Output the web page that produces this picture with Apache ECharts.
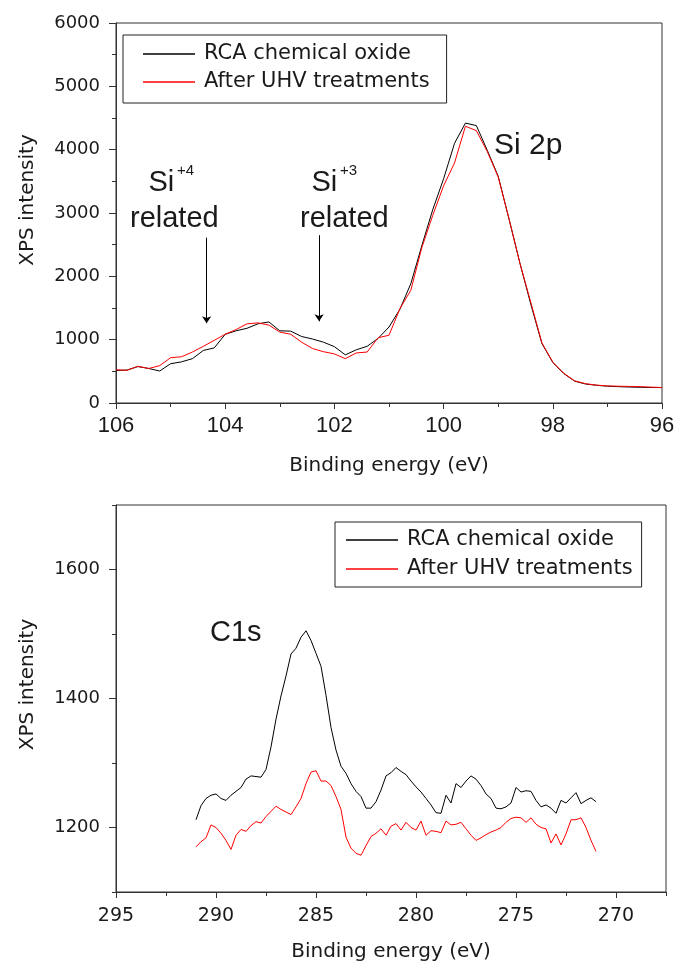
<!DOCTYPE html>
<html>
<head>
<meta charset="utf-8">
<script src="https://cdn.jsdelivr.net/npm/echarts@6/dist/echarts.min.js"></script>
<style>
  html, body { margin: 0; padding: 0; background: #fff; }
  #chart { width: 688px; height: 963px; }
</style>
</head>
<body>
<div id="chart"></div>
<script>
// Si 2p region: binding energy (eV) and XPS intensity of both surfaces
const siEnergy = [106.0, 105.8, 105.6, 105.4, 105.2, 105.0, 104.8, 104.6, 104.4, 104.2,
  104.0, 103.8, 103.6, 103.4, 103.2, 103.0, 102.8, 102.6, 102.4, 102.2,
  102.0, 101.8, 101.6, 101.4, 101.2, 101.0, 100.8, 100.6, 100.4, 100.2,
  100.0, 99.8, 99.6, 99.4, 99.2, 99.0, 98.8, 98.6, 98.4, 98.2,
  98.0, 97.8, 97.6, 97.4, 97.2, 97.0, 96.8, 96.6, 96.4, 96.2, 96.0];
const siRCA = [515, 520, 575, 545, 505, 620, 650, 700, 830, 870,
  1085, 1140, 1180, 1250, 1280, 1140, 1135, 1050, 1010, 960,
  890, 760, 840, 895, 1020, 1200, 1480, 1885, 2480, 3050,
  3540, 4100, 4420, 4380, 3990, 3580, 2900, 2200, 1550, 940,
  640, 465, 345, 300, 280, 265, 258, 252, 248, 245, 243];
const siUHV = [525, 515, 580, 545, 590, 715, 730, 805, 895, 990,
  1085, 1160, 1250, 1265, 1230, 1120, 1085, 960, 860, 810,
  775, 700, 790, 805, 1030, 1070, 1490, 1780, 2450, 2960,
  3430, 3790, 4370, 4300, 3970, 3570, 2900, 2200, 1580, 950,
  645, 470, 350, 305, 282, 270, 265, 262, 258, 250, 245];

// C 1s region
const cEnergy = [291.00,
  290.75, 290.50, 290.25, 290.00, 289.75, 289.50, 289.25, 289.00,
  288.75, 288.50, 288.25, 288.00, 287.75, 287.50, 287.25, 287.00,
  286.75, 286.50, 286.25, 286.00, 285.75, 285.50, 285.25, 285.00,
  284.75, 284.50, 284.25, 284.00, 283.75, 283.50, 283.25, 283.00,
  282.75, 282.50, 282.25, 282.00, 281.75, 281.50, 281.25, 281.00,
  280.75, 280.50, 280.25, 280.00, 279.75, 279.50, 279.25, 279.00,
  278.75, 278.50, 278.25, 278.00, 277.75, 277.50, 277.25, 277.00,
  276.75, 276.50, 276.25, 276.00, 275.75, 275.50, 275.25, 275.00,
  274.75, 274.50, 274.25, 274.00, 273.75, 273.50, 273.25, 273.00,
  272.75, 272.50, 272.25, 272.00, 271.75, 271.50, 271.25, 271.00];
const cRCA = [1212,
  1234, 1245, 1250, 1252, 1245, 1242, 1250, 1256,
  1262, 1275, 1280, 1279, 1278, 1290, 1325, 1368,
  1404, 1435, 1469, 1478, 1495, 1505, 1490, 1470,
  1450, 1405, 1355, 1320, 1295, 1284, 1268, 1256,
  1248, 1230, 1230, 1240, 1258, 1280, 1285, 1293,
  1287, 1282, 1272, 1263, 1255, 1245, 1235, 1223,
  1222, 1250, 1238, 1268, 1262, 1272, 1280, 1275,
  1265, 1252, 1245, 1230, 1229, 1232, 1238, 1262,
  1255, 1257, 1256, 1242, 1232, 1235, 1230, 1222,
  1242, 1238, 1246, 1254, 1237, 1242, 1246, 1240];
const cUHV = [1170,
  1178, 1184, 1204, 1200, 1191, 1180, 1166, 1188,
  1197, 1194, 1203, 1209, 1207, 1217, 1225, 1233,
  1228, 1224, 1220, 1232, 1245, 1268, 1286, 1288,
  1272, 1272, 1265, 1248, 1228, 1185, 1168, 1160,
  1157, 1172, 1186, 1191, 1198, 1188, 1202, 1206,
  1196, 1208, 1200, 1196, 1210, 1188, 1195, 1194,
  1192, 1210, 1204, 1205, 1208, 1198, 1188, 1180,
  1184, 1189, 1193, 1196, 1200, 1208, 1214, 1216,
  1215, 1208, 1215, 1205, 1200, 1198, 1176, 1190,
  1173, 1190, 1212, 1212, 1215, 1200, 1180, 1163];

// Axis ticks
const siXTicks = { min: 96, max: 106, step: 2 };
const siYTicks = { min: 0, max: 6000, step: 1000 };
const cXMajor = [295, 290, 285, 280, 275, 270];
const cXMinor = [292.5, 287.5, 282.5, 277.5, 272.5, 267.5];
const cYMajor = [1200, 1400, 1600];
const cYMinor = [1100, 1300, 1500, 1700];

// Arrows pointing at the oxide components: [energy, start intensity, end intensity]
const siArrows = [[104.34, 2610, 1260], [102.28, 2650, 1290]];

const names = ['RCA chemical oxide', 'After UHV treatments'];
const colors = ['#000000', '#ff0000'];

const pair = (xs, ys) => xs.map((x, i) => [x, ys[i]]);
const plain = v => String(v);

const AXIS = '#333';
const TXT = '#1a1a1a';
const sans = 'Liberation Sans';
const wide = 'DejaVu Sans';

function lineSeries(name, color, xi, yi, data, extra) {
  return Object.assign({
    type: 'line', name, xAxisIndex: xi, yAxisIndex: yi, data,
    symbol: 'none', showSymbol: false,
    lineStyle: { color, width: 1 }, itemStyle: { color },
    emphasis: { disabled: true }, silent: true, z: 3
  }, extra || {});
}

function legendBox(left, top, padding, gap) {
  return {
    orient: 'vertical', left, top, padding, itemGap: gap,
    icon: 'rect', itemWidth: 52, itemHeight: 1.3,
    borderColor: '#222', borderWidth: 1, backgroundColor: '#fff',
    selectedMode: false, data: names,
    textStyle: { fontFamily: wide, fontSize: 21, color: TXT, lineHeight: 22, padding: [0, 0, 0, 4] }
  };
}

const chart = echarts.init(document.getElementById('chart'), null, { renderer: 'canvas' });

const option = {
  animation: false,
  backgroundColor: '#ffffff',
  grid: [
    { left: 116, right: 26, top: 23, bottom: 560, show: true, borderColor: AXIS, borderWidth: 1 },
    { left: 116, right: 22, top: 505, bottom: 71, show: true, borderColor: AXIS, borderWidth: 1 }
  ],
  legend: [
    legendBox(123, 35, [8, 17, 10, 20], 6),
    legendBox(335, 522, [7, 9, 7, 11], 7)
  ],
  xAxis: [
    {
      gridIndex: 0, type: 'value', inverse: true,
      min: siXTicks.min, max: siXTicks.max, interval: siXTicks.step,
      axisLine: { show: true, onZero: false, lineStyle: { color: AXIS, width: 1 } },
      axisTick: { show: true, length: 6, lineStyle: { color: AXIS } },
      minorTick: { show: true, splitNumber: 2, length: 4, lineStyle: { color: AXIS } },
      splitLine: { show: false }, minorSplitLine: { show: false },
      axisLabel: { fontFamily: sans, fontSize: 22, color: TXT, margin: 12, formatter: plain },
      name: 'Binding energy (eV)', nameLocation: 'middle', nameGap: 53,
      nameTextStyle: { fontFamily: wide, fontSize: 20, color: TXT }
    },
    {
      gridIndex: 1, type: 'value', inverse: true, min: 267.5, max: 295,
      axisLine: { show: true, onZero: false, lineStyle: { color: AXIS, width: 1 } },
      axisTick: { show: true, length: 6, customValues: cXMajor, lineStyle: { color: AXIS } },
      splitLine: { show: false },
      axisLabel: { fontFamily: wide, fontSize: 19, color: TXT, margin: 15, customValues: cXMajor, formatter: plain },
      name: 'Binding energy (eV)', nameLocation: 'middle', nameGap: 50,
      nameTextStyle: { fontFamily: wide, fontSize: 20, color: TXT }
    },
    {
      gridIndex: 1, type: 'value', inverse: true, min: 267.5, max: 295, position: 'bottom',
      axisLine: { show: false, onZero: false },
      axisTick: { show: true, length: 4, customValues: cXMinor, lineStyle: { color: AXIS } },
      axisLabel: { show: false }, splitLine: { show: false }
    }
  ],
  yAxis: [
    {
      gridIndex: 0, type: 'value',
      min: siYTicks.min, max: siYTicks.max, interval: siYTicks.step,
      axisLine: { show: true, onZero: false, lineStyle: { color: AXIS, width: 1 } },
      axisTick: { show: true, length: 7, lineStyle: { color: AXIS } },
      minorTick: { show: true, splitNumber: 2, length: 4, lineStyle: { color: AXIS } },
      splitLine: { show: false }, minorSplitLine: { show: false },
      axisLabel: { fontFamily: wide, fontSize: 18, color: TXT, margin: 16, formatter: plain },
      name: 'XPS intensity', nameLocation: 'middle', nameGap: 78,
      nameTextStyle: { fontFamily: wide, fontSize: 20, color: TXT, padding: [0, 0, 0, 26] }
    },
    {
      gridIndex: 1, type: 'value', min: 1100, max: 1700,
      axisLine: { show: true, onZero: false, lineStyle: { color: AXIS, width: 1 } },
      axisTick: { show: true, length: 7, customValues: cYMajor, lineStyle: { color: AXIS } },
      splitLine: { show: false },
      axisLabel: { fontFamily: wide, fontSize: 18, color: TXT, margin: 16, customValues: cYMajor, formatter: plain },
      name: 'XPS intensity', nameLocation: 'middle', nameGap: 78,
      nameTextStyle: { fontFamily: wide, fontSize: 20, color: TXT, padding: [0, 0, 0, 28] }
    },
    {
      gridIndex: 1, type: 'value', min: 1100, max: 1700, position: 'left',
      axisLine: { show: false, onZero: false },
      axisTick: { show: true, length: 4, customValues: cYMinor, lineStyle: { color: AXIS } },
      axisLabel: { show: false }, splitLine: { show: false }
    }
  ],
  series: [
    lineSeries(names[0], colors[0], 0, 0, pair(siEnergy, siRCA), {
      markLine: {
        silent: true, animation: false,
        symbol: ['none', 'arrow'], symbolSize: 7,
        label: { show: false },
        lineStyle: { color: '#000', width: 1, type: 'solid' },
        emphasis: { disabled: true },
        data: siArrows.map(a => [{ coord: [a[0], a[1]] }, { coord: [a[0], a[2]] }])
      }
    }),
    lineSeries(names[1], colors[1], 0, 0, pair(siEnergy, siUHV)),
    lineSeries(names[0], colors[0], 1, 1, pair(cEnergy, cRCA)),
    lineSeries(names[1], colors[1], 1, 1, pair(cEnergy, cUHV))
  ],
  graphic: [
    { type: 'text', x: 148.5, y: 182.7, style: { text: 'Si', font: '29px "Liberation Sans"', fill: TXT, align: 'left', verticalAlign: 'middle' } },
    { type: 'text', x: 177, y: 171, style: { text: '+4', font: '15px "Liberation Sans"', fill: TXT, align: 'left', verticalAlign: 'middle' } },
    { type: 'text', x: 130, y: 219.3, style: { text: 'related', font: '29px "Liberation Sans"', fill: TXT, align: 'left', verticalAlign: 'middle' } },
    { type: 'text', x: 311.5, y: 182.7, style: { text: 'Si', font: '29px "Liberation Sans"', fill: TXT, align: 'left', verticalAlign: 'middle' } },
    { type: 'text', x: 340, y: 171, style: { text: '+3', font: '15px "Liberation Sans"', fill: TXT, align: 'left', verticalAlign: 'middle' } },
    { type: 'text', x: 300, y: 219.3, style: { text: 'related', font: '29px "Liberation Sans"', fill: TXT, align: 'left', verticalAlign: 'middle' } },
    { type: 'text', x: 494, y: 145.7, style: { text: 'Si 2p', font: '30px "Liberation Sans"', fill: TXT, align: 'left', verticalAlign: 'middle' } },
    { type: 'text', x: 210, y: 633, style: { text: 'C1s', font: '29px "Liberation Sans"', fill: TXT, align: 'left', verticalAlign: 'middle' } }
  ]
};

chart.setOption(option);
</script>
</body>
</html>
